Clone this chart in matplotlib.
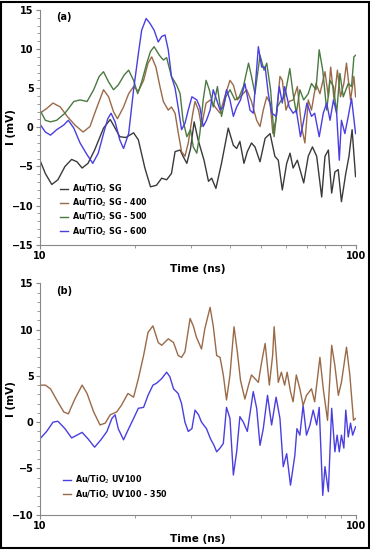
import numpy as np
import matplotlib
matplotlib.use('Agg')
from matplotlib import pyplot as plt
from matplotlib.patches import Rectangle
from matplotlib.ticker import FixedLocator, NullFormatter, MultipleLocator

# ---- panel (a) data ----
t_sg = [10.0, 10.4, 10.9, 11.4, 12.0, 12.6, 13.1, 13.6, 14.2, 14.9, 15.9, 16.7, 17.3, 17.9, 18.7, 19.8,
        20.5, 21.5, 22.4, 23.4, 24.3, 25.2, 26.1, 26.8, 27.8, 28.4, 29.2, 30.0, 30.8, 31.7, 33.1, 34.2,
        35.0, 36.1, 37.6, 39.5, 41.0, 42.0, 43.0, 44.3, 45.4, 46.8, 48.0, 49.8, 51.7, 53.6, 55.5, 56.9,
        58.6, 60.5, 62.0, 63.4, 65.4, 68.5, 70.8, 73.0, 75.3, 78.1, 80.0, 82.0, 84.0, 86.0, 88.1, 90.2,
        93.1, 95.3, 97.5, 100]
v_sg = [-4.2, -5.9, -7.3, -6.7, -5.0, -4.1, -4.4, -5.2, -4.6, -2.9, -0.1, 1.0, -0.1, -1.2, -1.3, -0.7,
        -1.6, -5.2, -7.6, -7.4, -6.5, -6.7, -5.9, -3.1, -2.9, -3.7, -4.6, -2.7, 0.7, -1.6, -4.2, -6.9,
        -6.5, -7.8, -4.6, -0.1, -2.3, -2.7, -1.8, -4.6, -3.1, -2.0, -2.5, -4.4, -1.4, -0.8, -3.7, -4.2,
        -8.0, -4.6, -3.3, -5.2, -4.2, -7.1, -3.7, -2.5, -3.7, -8.9, -3.7, -2.9, -8.4, -5.7, -5.4, -9.5,
        -5.9, -3.7, -0.3, -6.3]

t_400 = [10.0, 10.5, 11.0, 11.6, 12.2, 12.9, 13.7, 14.4, 15.1, 15.9, 16.5, 17.1, 17.6, 18.4, 19.1, 19.8,
         20.5, 21.3, 22.0, 22.6, 23.3, 24.0, 24.6, 25.5, 26.1, 26.8, 27.4, 28.1, 28.8, 29.5, 30.5, 31.0,
         31.8, 32.5, 33.6, 34.7, 35.9, 37.2, 38.5, 40.0, 41.0, 42.2, 43.6, 45.2, 46.8, 48.6, 49.8, 51.0,
         52.3, 53.6, 54.7, 56.0, 57.6, 58.6, 60.2, 61.6, 63.4, 65.4, 67.4, 69.1, 70.8, 72.5, 74.9, 77.1,
         80.0, 82.0, 83.4, 85.5, 87.6, 89.6, 91.8, 93.6, 96.4, 98.8, 100]
v_400 = [1.8, 2.4, 3.1, 2.6, 1.4, 0.3, -0.6, 0.1, 2.4, 4.8, 3.9, 2.0, 1.1, 2.6, 4.3, 5.2,
         4.6, 6.0, 8.2, 9.0, 7.7, 5.2, 3.3, 2.2, 2.6, 1.8, -0.6, -3.1, -3.7, -2.0, 1.8, 3.3,
         2.2, 0.1, 3.1, 3.5, 2.6, 1.8, 3.9, 6.0, 5.4, 3.5, 4.1, 4.8, 3.3, 0.9, 0.1, 2.2,
         3.9, 3.1, -0.8, 1.1, 6.5, 6.0, 2.2, 3.3, 3.5, 5.2, 0.1, -2.0, 3.5, 2.2, 5.6, 4.3,
         7.1, 3.9, 7.7, 3.5, 7.3, 3.9, 5.6, 8.2, 3.5, 6.5, 3.9]

t_500 = [10.0, 10.4, 10.8, 11.3, 12.0, 12.8, 13.4, 14.1, 14.8, 15.4, 15.9, 16.5, 17.1, 17.7, 18.5, 19.1,
         19.8, 20.4, 21.0, 21.8, 22.4, 23.0, 23.9, 24.6, 25.2, 26.1, 27.1, 27.8, 28.4, 29.2, 30.0, 30.6,
         31.4, 32.1, 32.9, 33.6, 34.4, 35.4, 36.5, 37.6, 38.8, 40.0, 41.5, 42.8, 44.1, 45.8, 46.8, 48.0,
         49.8, 51.3, 52.3, 53.8, 55.2, 56.5, 58.2, 59.6, 61.9, 63.4, 64.9, 66.6, 68.5, 70.8, 72.5, 74.9,
         76.7, 78.7, 81.0, 83.0, 85.1, 87.1, 89.2, 91.4, 94.8, 97.1, 98.8, 100]
v_500 = [2.2, 0.9, 0.7, 0.9, 1.8, 3.3, 3.5, 3.3, 4.8, 6.5, 7.1, 5.8, 4.8, 5.4, 6.7, 7.3,
         6.0, 4.3, 5.8, 8.2, 9.7, 10.3, 9.2, 8.6, 8.9, 6.5, 5.4, 4.3, 0.9, -1.2, -0.3, -2.5,
         -3.3, -0.8, 3.5, 6.0, 4.8, 2.6, 5.2, 1.4, 3.9, 4.8, 3.5, 3.9, 5.2, 8.2, 6.5, 4.3,
         9.2, 7.3, 8.2, 4.8, -1.2, 2.6, 3.5, 3.9, 7.5, 4.3, 1.8, 4.8, 3.5, 4.3, 5.6, 4.8,
         9.9, 7.3, 2.2, 6.0, 5.2, 1.8, 6.9, 3.9, 5.6, 5.2, 9.0, 9.2]

t_600 = [10.0, 10.4, 10.8, 11.3, 11.9, 12.3, 12.8, 13.4, 14.1, 14.7, 15.3, 15.9, 16.4, 16.8, 17.3, 17.9,
         18.4, 19.1, 19.8, 20.5, 21.0, 21.7, 22.3, 23.0, 23.7, 24.3, 24.9, 25.5, 26.1, 26.8, 27.4, 28.1,
         28.8, 29.5, 30.3, 31.4, 32.1, 32.9, 33.7, 34.6, 35.4, 36.3, 37.2, 38.1, 39.0, 40.0, 41.0, 42.0,
         43.2, 44.6, 46.3, 47.4, 49.2, 50.4, 51.7, 52.9, 54.3, 56.0, 57.3, 58.6, 59.6, 61.6, 63.4, 64.9,
         66.9, 68.5, 70.1, 72.5, 74.2, 76.7, 79.0, 81.0, 83.0, 85.1, 87.1, 88.8, 90.2, 92.5, 94.8, 97.1, 100]
v_600 = [0.4, -0.6, -1.0, -0.3, 0.3, 0.9, -0.1, -2.0, -3.5, -4.6, -3.3, -0.8, 1.1, 1.8, 0.7, -1.6,
         -2.7, -0.8, 4.8, 9.4, 12.4, 13.9, 13.3, 12.4, 10.9, 11.6, 11.8, 9.9, 6.5, 5.0, 2.6, -0.3,
         0.5, 2.2, 3.9, 3.5, 2.6, 0.1, 0.9, 2.2, 4.8, 3.5, 2.2, 2.6, 4.8, 3.5, 1.4, 2.6,
         3.5, 5.6, 2.2, 1.8, 10.3, 7.7, 7.7, 4.3, 1.8, 1.4, 5.2, 3.1, 5.2, 2.6, 1.8, 2.2,
         -1.2, 0.9, 3.1, 1.4, 1.8, -1.2, 1.8, 3.1, 0.9, 3.5, 1.8, -4.2, 0.9, -0.8, 1.4, 3.7, -0.8]

# ---- panel (b) data ----
t_uv350 = [10.0, 10.4, 10.8, 11.3, 11.9, 12.3, 12.9, 13.6, 14.1, 14.8, 15.5, 16.1, 16.7, 17.5, 18.1, 19.0,
           19.8, 20.5, 21.3, 22.0, 22.8, 23.7, 24.3, 25.5, 26.5, 27.4, 28.1, 28.8, 29.9, 30.6, 31.3, 32.5,
           33.3, 34.6, 35.4, 36.3, 37.2, 38.1, 39.0, 40.0, 41.2, 42.2, 43.2, 44.6, 45.8, 46.8, 48.0, 49.2,
           50.4, 51.7, 53.3, 54.6, 55.2, 56.9, 58.2, 59.6, 60.7, 62.2, 63.4, 64.9, 66.6, 68.2, 69.9, 72.5,
           74.2, 77.1, 79.0, 81.5, 84.0, 86.0, 88.2, 90.2, 93.6, 95.9, 98.5, 100]
v_uv350 = [4.0, 4.0, 3.6, 2.4, 1.1, 0.9, 2.5, 4.0, 3.1, 1.1, -0.3, -0.1, 0.8, 1.1, 1.8, 3.1,
           2.7, 4.7, 7.2, 9.7, 10.4, 8.6, 8.3, 9.0, 8.6, 7.2, 7.0, 7.6, 11.2, 10.4, 9.2, 7.9,
           10.1, 12.4, 10.4, 7.2, 7.0, 5.1, 2.4, 5.1, 10.3, 7.6, 4.5, 2.5, 4.0, 5.1, 4.7, 4.3,
           6.5, 8.5, 4.0, 7.2, 10.3, 4.3, 5.4, 4.0, 5.4, 3.3, 2.2, 5.1, 3.6, 1.8, 2.9, 3.6,
           2.2, 7.0, 3.6, 0.2, 8.3, 6.1, 2.9, 4.3, 8.1, 5.1, 0.2, 0.4]

t_uv = [10.0, 10.5, 11.0, 11.4, 12.0, 12.6, 13.1, 13.6, 14.2, 14.9, 15.6, 16.3, 16.9, 17.3, 17.7, 18.4,
        19.1, 19.8, 20.5, 21.3, 22.0, 22.8, 23.4, 24.3, 25.2, 25.8, 26.5, 27.4, 28.1, 28.8, 29.5, 30.3,
        31.0, 31.8, 32.5, 33.7, 34.7, 35.6, 36.3, 37.2, 38.1, 39.0, 40.0, 41.0, 42.0, 43.0, 44.1, 45.4,
        47.4, 48.6, 49.8, 51.0, 52.6, 54.2, 56.0, 57.6, 59.0, 60.5, 62.2, 64.2, 65.2, 66.6, 68.2, 69.9,
        71.7, 73.4, 75.3, 76.7, 78.7, 80.0, 82.0, 84.0, 86.0, 87.4, 88.8, 90.2, 91.8, 93.1, 94.8, 96.4,
        97.9, 100]
v_uv = [-1.8, -1.0, 0.0, 0.1, -0.7, -1.7, -1.4, -1.1, -1.8, -2.7, -1.9, -1.0, 0.4, 0.8, -0.7, -1.9,
        -0.7, 0.4, 1.5, 1.6, 2.9, 4.0, 4.2, 4.7, 5.4, 4.9, 3.6, 3.1, 2.0, 0.0, -1.0, -0.7,
        1.3, 0.8, 0.0, -0.7, -1.8, -2.5, -3.2, -2.8, -2.3, 1.6, 0.4, -5.7, -3.2, 0.6, 0.0, -1.0,
        3.3, 1.5, -2.5, -0.7, 2.9, -0.3, 2.7, 0.4, -4.8, -3.4, -6.8, -3.6, -0.7, -1.4, 1.8, -1.4,
        -0.3, 1.3, -0.3, 1.6, -7.9, -4.8, -7.5, 1.5, -3.2, -1.4, -3.2, -1.4, -2.8, 1.3, -1.6, -0.1,
        -1.4, -0.5]

c_black = '#3a3a3a'
c_brown = '#9a6a48'
c_green = '#4a7a42'
c_blue = '#4a3ee0'

fig = plt.figure(figsize=(3.7, 5.5), dpi=100)
ax1 = fig.add_axes([0.108, 0.555, 0.853, 0.427])
ax2 = fig.add_axes([0.108, 0.064, 0.853, 0.421])

ax1.plot(t_sg, v_sg, color=c_black, lw=1, label='Au/TiO$_2$ SG')
ax1.plot(t_400, v_400, color=c_brown, lw=1, label='Au/TiO$_2$ SG - 400')
ax1.plot(t_500, v_500, color=c_green, lw=1, label='Au/TiO$_2$ SG - 500')
ax1.plot(t_600, v_600, color=c_blue, lw=1, label='Au/TiO$_2$ SG - 600')
ax1.set_ylim(-15, 15)

ax2.plot(t_uv, v_uv, color=c_blue, lw=1, label='Au/TiO$_2$ UV100')
ax2.plot(t_uv350, v_uv350, color=c_brown, lw=1, label='Au/TiO$_2$ UV100 - 350')
ax2.set_ylim(-10, 15)

for ax, tag, anchor in [(ax1, '(a)', (0.04, 0.0)), (ax2, '(b)', (0.05, 0.03))]:
    ax.set_xscale('log')
    ax.set_xlim(10, 100)
    ax.xaxis.set_major_locator(FixedLocator([10, 100]))
    ax.xaxis.set_minor_locator(FixedLocator([20, 30, 40, 50, 60, 70, 80, 90]))
    ax.xaxis.set_minor_formatter(NullFormatter())
    ax.set_xticklabels(['10', '100'])
    ax.yaxis.set_major_locator(MultipleLocator(5))
    ax.yaxis.set_minor_locator(MultipleLocator(1))
    ax.spines['top'].set_visible(False)
    ax.spines['right'].set_visible(False)
    ax.spines['left'].set_color('#888888')
    ax.spines['bottom'].set_color('#888888')
    ax.tick_params(which='both', colors='#888888', labelcolor='black', labelsize=7, length=3, pad=1.5)
    ax.tick_params(which='minor', length=2)
    for lab in ax.get_xticklabels() + ax.get_yticklabels():
        lab.set_fontweight('bold')
    ax.set_xlabel('Time (ns)', fontsize=7.5, fontweight='bold', labelpad=2)
    ax.set_ylabel('I (mV)', fontsize=7.5, fontweight='bold')
    ax.yaxis.set_label_coords(-0.075, 0.5)
    ax.text(0.05, 0.99, tag, transform=ax.transAxes, fontsize=7, fontweight='bold', va='top')
    ax.legend(loc='lower left', bbox_to_anchor=anchor, frameon=False,
              prop={'size': 5.8, 'weight': 'bold'}, handlelength=1.0,
              handletextpad=0.5, labelspacing=0.2)

fig.patches.append(Rectangle((0.004, 0.003), 0.992, 0.994, transform=fig.transFigure,
                             fill=False, edgecolor='black', lw=1.5))

plt.savefig('out.png', dpi=100)
